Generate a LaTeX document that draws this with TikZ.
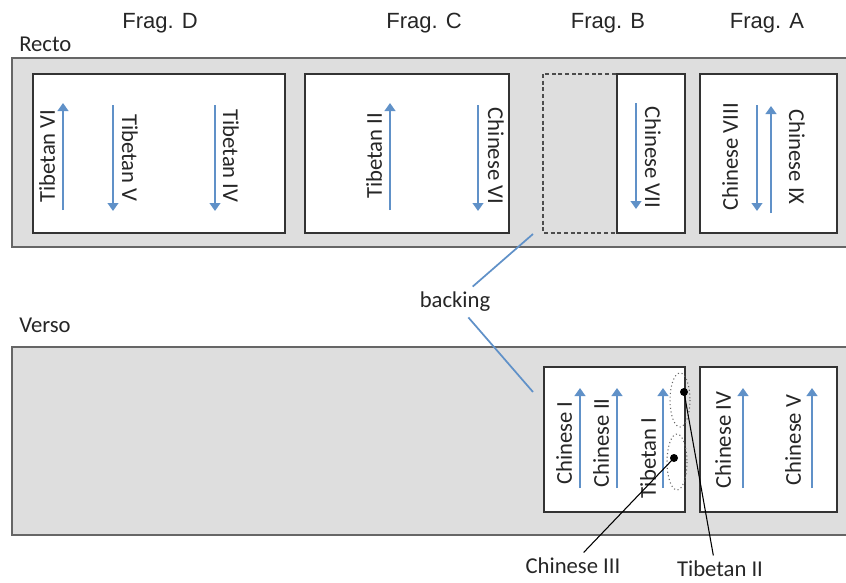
\documentclass[tikz,border=0pt]{standalone}
\usepackage{fontspec}
\setmainfont{Carlito}
\newfontfamily\fragfont{Liberation Sans}
\usetikzlibrary{arrows.meta}
\definecolor{strandblue}{RGB}{96,145,200}
\definecolor{sheetgray}{RGB}{222,222,222}
\tikzset{
  sheet/.style={fill=sheetgray, draw=black!60, line width=1.1pt},
  frag/.style={fill=white, draw=black!80, line width=1pt},
  strand/.style={strandblue, line width=2.2pt, -{Triangle[length=6pt,width=8pt]}},
  lbl/.style={font=\fontsize{17}{20}\selectfont, text=black!85, inner sep=0pt},
  fraglbl/.style={font=\fragfont\fontsize{16.5}{20}\selectfont, text=black!85, inner sep=0pt},
  backline/.style={strandblue, line width=1.3pt},
  dot/.style={circle, fill=black, inner sep=0pt, minimum size=6pt},
}
\begin{document}
\begin{tikzpicture}[x=0.75pt,y=-0.75pt]
\useasboundingbox (0,0) rectangle (846,582);
% titles
\node[fraglbl] (fragD) at (160,23) {Frag. D};
\node[fraglbl] (fragC) at (424,23) {Frag. C};
\node[fraglbl] (fragB) at (608,23) {Frag. B};
\node[fraglbl] (fragA) at (767,23) {Frag. A};
\node[lbl, anchor=west] (recto) at (19,44) {Recto};
\node[lbl, anchor=west] (verso) at (19,325) {Verso};

% recto
\draw[sheet] (12,58) rectangle (852,247);
\draw[frag] (33,74) rectangle (285,233);
\draw[frag] (305,74) rectangle (509,233);
\draw[fill=sheetgray, draw=black!70, densely dashed, line width=0.8pt] (543,74) rectangle (617,233);
\draw[frag] (617,74) rectangle (685,233);
\draw[frag] (700,74) rectangle (837,233);

\draw[strand] (63,210) -- (63,103);
\node[lbl, rotate=90] (tibVI) at (47,156) {Tibetan VI};
\draw[strand] (113,105) -- (113,211);
\node[lbl, rotate=-90] (tibV) at (130,158) {Tibetan V};
\draw[strand] (215,105) -- (215,211);
\node[lbl, rotate=-90] (tibIV) at (231,156) {Tibetan IV};

\draw[strand] (390,210) -- (390,103);
\node[lbl, rotate=90] (tibII) at (374,156) {Tibetan II};
\draw[strand] (478,105) -- (478,211);
\node[lbl, rotate=-90] (chiVI) at (496,156) {Chinese VI};

\draw[strand] (636,103) -- (636,209);
\node[lbl, rotate=-90] (chiVII) at (653,157) {Chinese VII};

\draw[strand] (757,105) -- (757,211);
\node[lbl, rotate=90] (chiVIII) at (730,157) {Chinese VIII};
\draw[strand] (771,213) -- (771,106);
\node[lbl, rotate=-90] (chiIX) at (797,157) {Chinese IX};

% verso
\draw[sheet] (12,347) rectangle (852,535);
\draw[frag] (544,367) rectangle (685,512);
\draw[frag] (700,367) rectangle (837,512);

\draw[strand] (580,488) -- (580,388);
\node[lbl, rotate=90] (chiI) at (564,443) {Chinese I};
\draw[strand] (617,488) -- (617,388);
\node[lbl, rotate=90] (chiII) at (601,443) {Chinese II};
\draw[strand] (663,488) -- (663,388);
\node[lbl, rotate=90] (tibI) at (648,458) {Tibetan I};

\draw[strand] (743,488) -- (743,388);
\node[lbl, rotate=90] (chiIV) at (723,440) {Chinese IV};
\draw[strand] (812,488) -- (812,388);
\node[lbl, rotate=90] (chiV) at (793,440) {Chinese V};

\draw[black!60, dotted, line width=0.8pt] (680,400) ellipse [x radius=10, y radius=27];
\draw[black!60, dotted, line width=0.8pt] (677,462) ellipse [x radius=10, y radius=28];
\node[dot] (dotTibII) at (684,392) {};
\node[dot] (dotChiIII) at (674,458) {};

\node[lbl, inner sep=4pt] (chiIII) at (573,566) {Chinese III};
\node[lbl, inner sep=4pt] (tibIIv) at (720,569) {Tibetan II};
\draw[black, line width=0.8pt] (dotChiIII.center) -- ([xshift=8pt]chiIII.north);
\draw[black, line width=0.8pt] (dotTibII.center) -- ([xshift=-5pt]tibIIv.north);

% backing
\node[lbl, inner sep=4pt] (backing) at (455,302) {backing};
\coordinate (bkRecto) at (533,234);
\coordinate (bkVerso) at (533,392);
\draw[backline] (backing) -- (bkRecto);
\draw[backline] (backing) -- (bkVerso);
\end{tikzpicture}
\end{document}
